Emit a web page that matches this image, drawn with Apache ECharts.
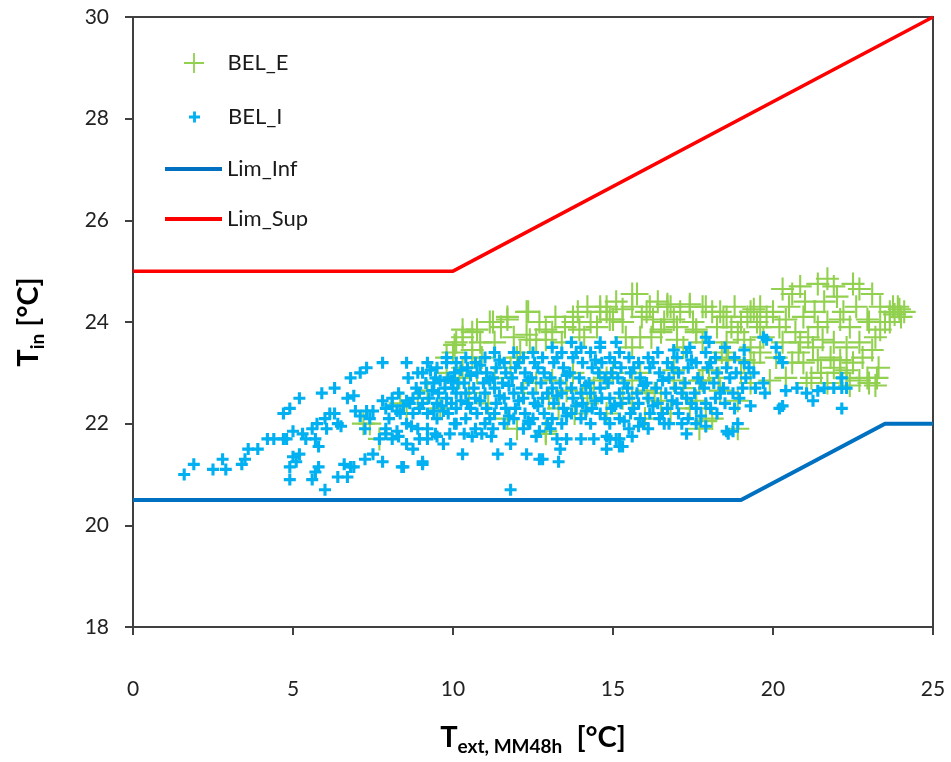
<!DOCTYPE html>
<html>
<head>
<meta charset="utf-8">
<script src="https://cdn.jsdelivr.net/npm/echarts@6/dist/echarts.min.js"></script>
<style>
html, body { margin: 0; padding: 0; background: #fff; }
#chart { width: 951px; height: 762px; }
</style>
</head>
<body>
<div id="chart"></div>
<script>
// axes
let xMin = 0, xMax = 25, xStep = 5;
let yMin = 18, yMax = 30, yStep = 2;

// limit lines
let limInf = [[0, 20.5], [19, 20.5], [23.5, 22], [25, 22]];
let limSup = [[0, 25], [10, 25], [25, 30]];

// BEL_E (green, big cross)
let belE = [
    [7.2, 22.0], [7.7, 21.7], [7.4, 22.0], [8.35, 22.4], [8.55, 22.2], [8.9, 22.5], [9.2, 22.65], [9.8, 23.0], [10.0, 23.4],
    [9.6, 22.3], [9.8, 23.3], [10.05, 23.55], [10.1, 23.6], [10.3, 23.7], [10.3, 23.85], [10.3, 23.1], [10.6, 23.8],
    [10.6, 23.3], [10.6, 23.45], [10.75, 23.85], [10.75, 23.0], [10.85, 23.6], [11.15, 24.0], [11.25, 24.0],
    [11.7, 24.05], [11.7, 24.1], [11.8, 23.1], [12.0, 23.3], [12.3, 24.2], [12.35, 24.2], [12.3, 23.75], [12.4, 23.65],
    [12.6, 23.65], [12.9, 23.65], [12.9, 23.85], [13.1, 23.8], [13.75, 24.0], [13.75, 24.1], [13.95, 23.85], [14.3, 24.0],
    [14.6, 24.3], [14.6, 24.2], [14.8, 24.2], [14.8, 24.3], [14.9, 24.05], [15.0, 24.05], [15.3, 24.25], [15.3, 24.0],
    [15.6, 24.55], [15.6, 24.3], [15.75, 24.55], [15.85, 23.7], [16.05, 24.2], [16.15, 24.3], [16.25, 24.05],
    [16.5, 23.8], [16.5, 23.85], [16.7, 24.3], [16.7, 24.35], [16.8, 24.3], [16.9, 24.05], [17.0, 23.9], [17.0, 23.65],
    [17.4, 24.35], [17.4, 24.3], [17.6, 23.8], [17.6, 23.85], [17.8, 24.3], [17.9, 24.3], [18.25, 23.9], [18.35, 24.2],
    [18.45, 24.1], [18.55, 24.1], [18.55, 23.6], [18.9, 23.8], [19.1, 23.65], [19.2, 24.1], [19.3, 24.2], [19.4, 24.25],
    [19.5, 24.0], [19.6, 24.3], [19.6, 23.9], [19.8, 24.1],
    [20.3, 24.65], [20.4, 24.05], [20.6, 24.55], [20.85, 24.7], [20.85, 23.6], [20.95, 24.1], [20.95, 23.2],
    [21.25, 23.5], [21.4, 24.75], [21.4, 23.9], [21.4, 23.25], [21.55, 23.65], [21.7, 24.85], [21.7, 24.0],
    [21.9, 24.7], [21.9, 23.6], [21.9, 23.1], [22.1, 24.05], [22.1, 23.25], [22.1, 23.0], [22.3, 23.5], [22.3, 23.05],
    [22.3, 22.9], [22.4, 23.9], [22.5, 24.75], [22.7, 24.65], [22.7, 23.6], [22.7, 22.85], [22.95, 24.05], [22.95, 22.9],
    [23.1, 24.55], [23.1, 23.45], [23.25, 22.9], [23.35, 24.3], [23.35, 23.85], [23.65, 24.2], [23.65, 24.0],
    [23.75, 24.3], [23.95, 24.25], [24.1, 24.2], [23.9, 24.3],
    [19.9, 22.85], [20.4, 22.9], [21.05, 22.8], [19.1, 23.25], [19.4, 23.2], [18.55, 23.25], [18.0, 23.05],
    [17.7, 22.85], [18.35, 22.65], [17.7, 21.9], [17.6, 22.3], [17.9, 22.05], [17.8, 22.85], [18.9, 22.45], [17.6, 22.45],
    [14.8, 22.9], [15.85, 23.0], [16.9, 23.05], [13.1, 22.85], [13.75, 23.0], [14.6, 22.85], [15.0, 23.0], [15.6, 22.85],
    [16.05, 22.65], [16.9, 22.85], [12.9, 21.8], [14.2, 22.4], [15.6, 22.4], [16.5, 22.45], [11.7, 22.1], [12.0, 21.9],
    [12.9, 21.85], [13.55, 22.65], [14.05, 22.5], [10.2, 22.9], [10.5, 22.6], [11.1, 22.4], [12.6, 22.8], [13.0, 22.5],
    [13.8, 22.2], [14.4, 22.7], [15.3, 22.5], [16.3, 22.6], [16.8, 22.2], [17.2, 22.7], [18.3, 22.9], [18.6, 23.3],
    [19.0, 23.0], [19.3, 22.8], [19.6, 23.4], [20.1, 23.3], [20.6, 23.2], [21.2, 22.9], [21.7, 22.8], [22.4, 22.75],
    [23.0, 22.8], [23.2, 22.75],
    [10.9, 23.3], [11.3, 23.6], [11.5, 23.9], [11.9, 23.7], [12.1, 23.4], [12.7, 24.0], [13.2, 24.1], [13.4, 23.6],
    [13.5, 23.9], [13.9, 24.2], [14.1, 23.7], [14.2, 24.3], [14.5, 23.9], [15.1, 24.4], [15.4, 23.7], [15.6, 23.5],
    [15.9, 24.1], [16.2, 23.7], [16.4, 24.4], [16.6, 24.0], [17.1, 24.2], [17.2, 23.5], [17.5, 24.0], [17.8, 23.6],
    [18.1, 24.2], [18.4, 23.4], [18.7, 23.9], [18.8, 24.3], [19.0, 24.0], [19.3, 23.5], [19.7, 23.7], [20.0, 24.2],
    [20.2, 23.9], [20.5, 24.3], [20.7, 23.8], [21.0, 24.4], [21.1, 23.7], [21.3, 24.2], [21.6, 24.4], [21.8, 23.3],
    [22.0, 24.5], [22.2, 24.2], [22.6, 24.3], [22.8, 23.3], [23.0, 24.0], [23.3, 23.1], [23.5, 24.0], [23.2, 23.7],
    [22.5, 23.2], [21.5, 23.0], [20.8, 23.4], [20.3, 23.6], [24.0, 24.1], [23.8, 24.15],
    [11.3, 22.9], [12.2, 22.6], [13.3, 22.3], [14.8, 22.2], [16.0, 22.1], [17.4, 22.3], [18.1, 22.1], [18.9, 21.9]
];

// BEL_I (blue, small cross)
let belI = [
    [1.6, 21.0], [1.9, 21.2], [2.5, 21.1], [2.8, 21.3], [2.9, 21.1], [3.4, 21.2], [3.5, 21.3], [3.6, 21.5], [3.9, 21.5],
    [4.2, 21.7], [4.4, 21.7], [4.7, 21.7], [4.8, 21.7], [4.7, 22.2], [4.9, 22.3], [5.0, 21.85], [4.9, 21.15], [4.9, 20.9],
    [5.2, 22.5], [5.0, 21.35], [5.1, 21.25], [5.2, 21.4], [5.3, 21.8], [5.4, 21.7], [5.6, 21.9], [5.7, 21.7], [5.8, 21.55],
    [5.75, 22.0], [6.0, 22.1], [6.05, 21.9], [6.15, 22.2], [6.3, 22.2], [6.4, 22.0], [6.5, 21.95], [5.9, 22.6], [6.3, 22.7],
    [6.7, 22.5], [6.9, 22.55], [6.95, 22.25], [7.1, 22.15], [7.3, 22.25], [7.5, 22.25], [7.25, 21.9], [7.4, 22.1],
    [6.8, 22.9], [7.1, 23.0], [7.3, 23.1], [7.8, 23.2], [8.55, 23.2], [5.6, 20.9], [5.7, 21.05], [5.8, 21.15], [6.0, 20.7],
    [6.4, 20.95], [6.7, 20.95], [6.6, 21.2], [6.8, 21.15], [6.9, 21.15], [7.25, 21.3], [7.5, 21.4], [7.8, 21.25],
    [7.7, 21.7], [7.9, 21.8], [8.1, 21.7], [8.3, 21.75], [8.45, 21.15], [8.55, 21.6], [8.75, 21.5], [9.05, 21.25],
    [8.95, 21.7], [9.2, 21.7], [9.5, 21.75], [9.7, 21.6], [8.7, 21.95], [7.8, 22.45], [7.9, 22.3], [8.1, 22.35],
    [8.25, 22.25], [8.45, 22.35], [8.55, 22.45], [8.75, 22.5], [8.95, 22.6], [9.05, 23.0], [9.3, 23.05], [9.4, 22.8],
    [9.6, 22.85], [9.8, 23.2], [10.0, 22.7], [9.7, 22.25], [9.4, 22.25], [10.1, 22.0], [9.9, 21.8],
    [10.3, 21.4], [10.6, 21.75], [10.9, 21.8], [11.2, 21.75], [11.4, 21.4], [11.8, 21.6], [12.3, 21.4], [12.7, 21.3],
    [13.3, 21.25], [12.6, 21.75], [13.25, 21.7], [13.55, 21.7], [12.4, 22.0], [12.7, 21.85], [11.8, 20.7],
    [12.8, 21.3], [9.05, 21.2], [8.4, 21.15], [13.35, 21.5], [14.0, 21.7], [14.4, 21.7],
    [14.9, 21.7], [15.2, 21.7], [15.6, 21.75], [14.8, 21.5], [15.2, 21.55], [17.3, 21.8], [18.6, 21.8],
    [14.8, 21.75], [15.1, 21.7], [15.3, 21.55], [15.8, 21.95], [16.6, 22.0], [17.9, 21.95], [18.9, 22.0],
    [17.9, 23.7], [18.0, 23.6], [16.9, 23.45], [17.4, 23.5], [19.1, 23.45], [15.1, 23.6], [14.6, 23.6],
    [19.7, 23.7], [19.8, 23.65], [20.1, 23.5], [20.2, 23.3], [20.3, 23.2],
    [20.4, 22.65], [20.75, 22.7], [21.05, 22.6], [21.4, 22.65], [21.6, 22.7], [21.9, 22.7], [22.15, 22.7], [22.3, 22.7],
    [22.15, 22.9], [22.15, 22.3], [21.25, 22.45], [20.2, 22.3], [20.3, 22.35], [19.3, 22.35], [17.6, 22.0], [18.55, 21.85],
    [18.75, 21.85],
    [8.0, 22.1], [8.1, 22.5], [7.9, 21.9], [8.3, 22.6], [8.35, 22.2], [8.25, 21.85], [8.6, 22.9], [8.65, 22.4], [8.55, 22.0],
    [8.9, 23.0], [8.85, 22.7], [8.95, 22.3], [8.9, 21.9], [9.2, 23.2], [9.15, 22.8], [9.25, 22.5], [9.2, 22.2], [9.2, 21.9],
    [9.5, 23.1], [9.45, 22.9], [9.55, 22.6], [9.5, 22.4], [9.5, 22.1], [9.45, 21.8], [9.8, 23.3], [9.85, 22.9], [9.75, 22.7],
    [9.8, 22.5], [9.85, 22.2], [10.1, 23.2], [10.05, 23.0], [10.15, 22.8], [10.1, 22.6], [10.1, 22.3], [10.05, 22.0],
    [10.4, 23.3], [10.45, 23.1], [10.35, 22.8], [10.4, 22.6], [10.45, 22.4], [10.4, 22.1], [10.35, 21.8],
    [10.7, 23.2], [10.75, 23.0], [10.65, 22.7], [10.7, 22.5], [10.75, 22.2], [10.7, 21.9],
    [11.0, 23.3], [11.05, 23.0], [10.95, 22.8], [11.0, 22.6], [11.05, 22.3], [11.0, 22.0],
    [11.3, 23.4], [11.35, 23.1], [11.25, 22.9], [11.3, 22.7], [11.35, 22.4], [11.3, 22.2], [11.25, 21.9],
    [11.6, 23.2], [11.65, 23.0], [11.55, 22.8], [11.6, 22.5], [11.65, 22.3], [11.6, 22.0],
    [11.9, 23.4], [11.95, 23.1], [11.85, 22.9], [11.9, 22.6], [11.95, 22.3], [11.9, 22.1],
    [12.2, 23.3], [12.25, 23.0], [12.15, 22.7], [12.2, 22.5], [12.25, 22.2], [12.2, 21.9],
    [12.5, 23.4], [12.55, 23.2], [12.45, 22.9], [12.5, 22.6], [12.55, 22.4], [12.5, 22.1],
    [12.8, 23.3], [12.85, 23.0], [12.75, 22.8], [12.8, 22.5], [12.85, 22.2],
    [13.1, 23.5], [13.15, 23.2], [13.05, 22.9], [13.1, 22.7], [13.15, 22.4], [13.1, 22.1], [13.05, 21.9],
    [13.4, 23.4], [13.45, 23.1], [13.35, 22.8], [13.4, 22.6], [13.45, 22.3], [13.4, 22.0],
    [13.7, 23.6], [13.75, 23.3], [13.65, 23.0], [13.7, 22.7], [13.75, 22.5], [13.7, 22.2],
    [14.0, 23.5], [14.05, 23.2], [13.95, 22.9], [14.0, 22.6], [14.05, 22.4], [14.0, 22.1],
    [14.3, 23.4], [14.35, 23.1], [14.25, 22.8], [14.3, 22.6], [14.35, 22.3], [14.3, 22.0],
    [14.6, 23.5], [14.65, 23.2], [14.55, 23.0], [14.6, 22.7], [14.65, 22.5], [14.6, 22.2],
    [14.9, 23.3], [14.95, 23.0], [14.85, 22.8], [14.9, 22.5], [14.95, 22.3], [14.9, 22.0],
    [15.2, 23.4], [15.25, 23.1], [15.15, 22.9], [15.2, 22.6], [15.25, 22.4], [15.2, 22.1],
    [15.5, 23.3], [15.55, 23.0], [15.45, 22.7], [15.5, 22.5], [15.55, 22.2], [15.5, 21.9],
    [15.8, 23.2], [15.85, 22.9], [15.75, 22.6], [15.8, 22.4], [15.85, 22.1],
    [16.1, 23.3], [16.15, 23.1], [16.05, 22.8], [16.1, 22.5], [16.15, 22.2], [16.1, 21.9],
    [16.4, 23.4], [16.45, 23.0], [16.35, 22.7], [16.4, 22.4], [16.45, 22.1],
    [16.7, 23.2], [16.75, 22.9], [16.65, 22.6], [16.7, 22.3], [16.75, 22.0],
    [17.0, 23.3], [17.05, 23.0], [16.95, 22.7], [17.0, 22.4], [17.05, 22.2],
    [17.3, 23.4], [17.35, 23.1], [17.25, 22.8], [17.3, 22.5], [17.35, 22.1],
    [17.6, 23.2], [17.65, 22.9], [17.55, 22.6], [17.6, 22.3],
    [17.9, 23.4], [17.95, 23.1], [17.85, 22.7], [17.9, 22.4],
    [18.2, 23.3], [18.25, 23.0], [18.15, 22.8], [18.2, 22.5], [18.25, 22.2],
    [18.5, 23.5], [18.55, 23.1], [18.45, 22.7], [18.5, 22.4],
    [18.8, 23.3], [18.85, 23.0], [18.75, 22.6], [18.8, 22.3],
    [19.1, 23.2], [19.15, 22.9], [19.05, 22.7], [19.4, 23.0], [19.45, 22.7], [19.7, 22.8], [19.75, 22.6],
    [10.25, 23.05], [10.25, 22.45], [10.55, 22.95], [10.55, 22.3], [10.85, 23.15], [10.85, 22.45], [11.15, 22.85],
    [11.15, 22.1], [11.45, 23.25], [11.45, 22.55], [11.75, 22.75], [11.75, 22.15], [12.05, 23.2], [12.05, 22.45],
    [12.35, 22.85], [12.35, 22.05], [12.65, 23.1], [12.65, 22.35], [12.95, 22.6], [12.95, 22.0], [13.25, 23.3],
    [13.25, 22.55], [13.55, 22.95], [13.55, 22.15], [13.85, 23.4], [13.85, 22.35], [14.15, 22.75], [14.15, 22.25],
    [14.45, 23.25], [14.45, 22.45], [14.75, 22.9], [14.75, 22.1], [15.05, 23.2], [15.05, 22.35], [15.35, 22.8],
    [15.35, 22.05], [15.65, 23.1], [15.65, 22.3], [15.95, 22.75], [15.95, 22.0], [16.25, 23.2], [16.25, 22.35],
    [16.55, 22.85], [16.55, 22.2], [16.85, 23.1], [16.85, 22.45], [17.15, 22.6], [17.15, 22.0], [17.45, 23.25],
    [17.45, 22.4], [17.75, 22.8], [17.75, 22.15], [18.05, 23.2], [18.05, 22.3], [18.35, 22.6], [18.65, 22.9],
    [18.95, 22.5], [19.25, 23.1], [9.35, 22.65], [9.65, 22.35], [9.95, 22.85], [9.95, 22.4], [9.05, 22.4], [8.75, 22.2]
];

let bigCross = 'path://M10,0H12V10H22V12H12V22H10V12H0V10H10Z';
let smallCross = 'path://M3.7,0H6.3V3.7H10V6.3H6.3V10H3.7V6.3H0V3.7H3.7Z';
let lineIcon = 'path://M0,0H57V4H0Z';
let axisColor = '#404040';
let font = 'Lato, "Open Sans", sans-serif';

let myChart = echarts.init(document.getElementById('chart'));

let legendText = {
    fontFamily: font,
    fontSize: 22,
    color: '#1a1a1a'
};

let nameRich = {
    m: { fontFamily: font, fontSize: 29, fontWeight: 'bold', color: '#000', lineHeight: 36 },
    s: { fontFamily: font, fontSize: 19, fontWeight: 'bold', color: '#000', lineHeight: 18, verticalAlign: 'bottom' }
};

let option = {
    animation: false,
    backgroundColor: '#fff',
    grid: {
        left: 133,
        right: 18,
        top: 17,
        bottom: 135,
        outerBoundsMode: 'none',
        show: true,
        borderColor: axisColor,
        borderWidth: 2
    },
    legend: [
        { data: ['BEL_E'], left: 184, top: 52, padding: 0, itemWidth: 57, itemHeight: 20, selectedMode: false, textStyle: legendText },
        { data: ['BEL_I'], left: 189, top: 106, padding: 0, itemWidth: 57, itemHeight: 11, selectedMode: false, textStyle: legendText },
        {
            data: [{ name: 'Lim_Inf', icon: lineIcon }, { name: 'Lim_Sup', icon: lineIcon }],
            orient: 'vertical', left: 165, top: 158, padding: 0, itemWidth: 57, itemHeight: 4,
            itemGap: 28, selectedMode: false, textStyle: legendText
        }
    ],
    xAxis: {
        type: 'value',
        min: xMin,
        max: xMax,
        interval: xStep,
        name: '{m|T}{s|ext, MM48h}{m|  [°C]}',
        nameLocation: 'middle',
        nameGap: 93,
        nameTextStyle: { rich: nameRich },
        axisLine: { show: true, lineStyle: { color: axisColor, width: 2 } },
        axisTick: { show: true, inside: false, length: 8, lineStyle: { color: axisColor, width: 2 } },
        axisLabel: { margin: 52, fontFamily: font, fontSize: 21, color: '#222' },
        splitLine: { show: false }
    },
    yAxis: {
        type: 'value',
        min: yMin,
        max: yMax,
        interval: yStep,
        name: '{m|T}{s|in}{m| [°C]}',
        nameLocation: 'middle',
        nameGap: 86,
        nameTextStyle: { rich: nameRich },
        axisLine: { show: true, lineStyle: { color: axisColor, width: 2 } },
        axisTick: { show: true, inside: false, length: 8, lineStyle: { color: axisColor, width: 2 } },
        axisLabel: { margin: 24, fontFamily: font, fontSize: 21, color: '#222' },
        splitLine: { show: false }
    },
    series: [
        {
            name: 'BEL_E',
            type: 'scatter',
            data: belE,
            symbol: bigCross,
            symbolSize: 23,
            itemStyle: { color: '#92D050', opacity: 1 }
        },
        {
            name: 'BEL_I',
            type: 'scatter',
            data: belI,
            symbol: smallCross,
            symbolSize: 12,
            itemStyle: { color: '#00B0F0', opacity: 1 }
        },
        {
            name: 'Lim_Inf',
            type: 'line',
            data: limInf,
            symbol: 'none',
            lineStyle: { color: '#0070C0', width: 4 },
            itemStyle: { color: '#0070C0' }
        },
        {
            name: 'Lim_Sup',
            type: 'line',
            data: limSup,
            symbol: 'none',
            lineStyle: { color: '#FF0000', width: 3.5 },
            itemStyle: { color: '#FF0000' }
        }
    ]
};

myChart.setOption(option);
</script>
</body>
</html>
